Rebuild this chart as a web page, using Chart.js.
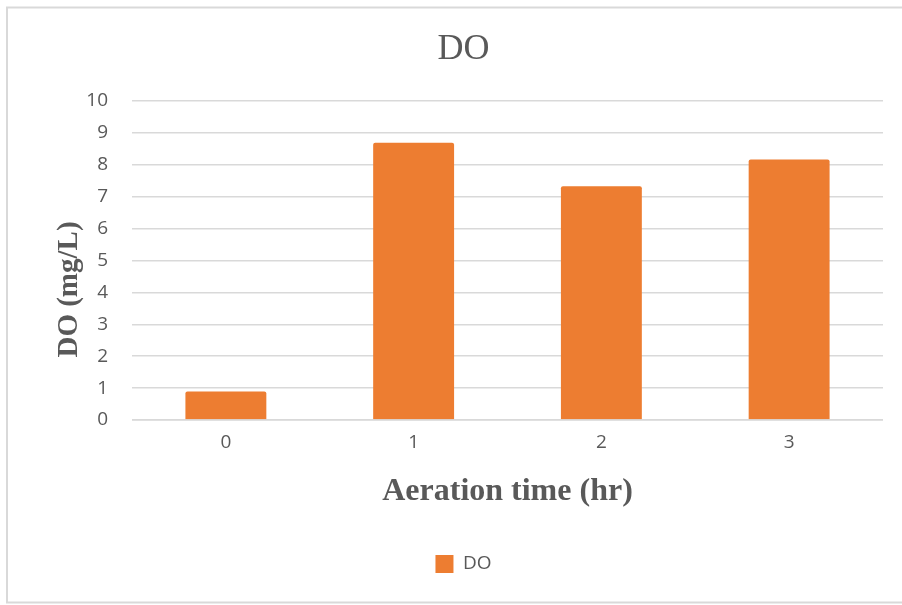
<!DOCTYPE html>
<html>
<head>
<meta charset="utf-8">
<script src="https://cdn.jsdelivr.net/npm/chart.js@4/dist/chart.umd.min.js"></script>
<style>
  html, body { margin: 0; padding: 0; background: #ffffff; }
  #wrap { position: relative; width: 902px; height: 605px; }
</style>
</head>
<body>
<div id="wrap"><canvas id="chart" width="902" height="605"></canvas></div>
<script>
// Aeration time categories (hours) and dissolved oxygen readings (mg/L)
const categories = ['0', '1', '2', '3'];
const doValues = [0.89, 8.69, 7.33, 8.17];
const yTicks = [0, 1, 2, 3, 4, 5, 6, 7, 8, 9, 10];
const yTitle = 'DO (mg/L)';

const GREY = '#595959';
const GRID = '#d9d9d9';
const ORANGE = '#ED7D31';
const SANS = '"Open Sans", "Liberation Sans", sans-serif';
const SERIF = '"Liberation Serif", "Times New Roman", serif';

// White background plus the light frame around the chart
const framePlugin = {
  id: 'frame',
  beforeDraw(chart) {
    const ctx = chart.ctx;
    ctx.save();
    ctx.fillStyle = '#ffffff';
    ctx.fillRect(0, 0, chart.width, chart.height);
    ctx.strokeStyle = GRID;
    ctx.lineWidth = 2;
    ctx.strokeRect(7, 7.5, chart.width + 10, 595);
    ctx.restore();
  }
};

// Zero line stays visible across the foot of each bar
const zeroLinePlugin = {
  id: 'zeroLine',
  afterDatasetsDraw(chart) {
    const { ctx, chartArea, scales } = chart;
    const y = scales.y.getPixelForValue(0);
    ctx.save();
    ctx.strokeStyle = 'rgba(217,217,217,0.85)';
    ctx.lineWidth = 1.5;
    ctx.beginPath();
    ctx.moveTo(chartArea.left, y);
    ctx.lineTo(chartArea.right, y);
    ctx.stroke();
    ctx.restore();
  }
};

// Vertical axis title, set a little below the middle of the value axis
const yTitlePlugin = {
  id: 'yTitle',
  afterDraw(chart) {
    const { ctx, chartArea, scales } = chart;
    const cx = scales.y.left + 26;
    const cy = (chartArea.top + chartArea.bottom) / 2 + 29;
    ctx.save();
    ctx.translate(cx, cy);
    ctx.rotate(-Math.PI / 2);
    ctx.fillStyle = GREY;
    ctx.font = 'bold 29px ' + SERIF;
    ctx.textAlign = 'center';
    ctx.textBaseline = 'middle';
    ctx.fillText(yTitle, 0, 0);
    ctx.restore();
  }
};

new Chart(document.getElementById('chart'), {
  type: 'bar',
  data: {
    labels: categories,
    datasets: [{
      label: 'DO',
      data: doValues,
      backgroundColor: ORANGE,
      borderWidth: 0,
      borderRadius: 2,
      borderSkipped: 'bottom',
      barPercentage: 0.431,
      categoryPercentage: 1.0
    }]
  },
  options: {
    responsive: false,
    animation: false,
    devicePixelRatio: 1,
    layout: { padding: { left: 44, right: 19, top: 0, bottom: 21.5 } },
    plugins: {
      title: {
        display: true,
        text: 'DO',
        color: GREY,
        font: { family: SERIF, size: 36, weight: 'normal' },
        padding: { top: 28.4, bottom: 29.4 }
      },
      legend: {
        display: true,
        position: 'bottom',
        labels: {
          color: GREY,
          font: { family: SANS, size: 19 },
          boxWidth: 18,
          boxHeight: 18,
          padding: 10
        }
      },
      tooltip: { enabled: false }
    },
    scales: {
      x: {
        grid: { display: false, drawTicks: false },
        border: { display: false },
        ticks: { color: GREY, font: { family: SANS, size: 19 }, padding: 11 },
        title: {
          display: true,
          text: 'Aeration time (hr)',
          color: GREY,
          font: { family: SERIF, size: 32, weight: 'bold' },
          padding: { top: 8.1, bottom: 33.2 }
        }
      },
      y: {
        min: 0,
        max: 10,
        afterFit(scale) { scale.width = 88; },
        afterBuildTicks(scale) { scale.ticks = yTicks.map(v => ({ value: v })); },
        grid: { color: GRID, lineWidth: 1.5, drawTicks: false },
        border: { display: false },
        ticks: { color: GREY, font: { family: SANS, size: 19 }, padding: 24 },
        title: { display: false }
      }
    }
  },
  plugins: [framePlugin, zeroLinePlugin, yTitlePlugin]
});
</script>
</body>
</html>
